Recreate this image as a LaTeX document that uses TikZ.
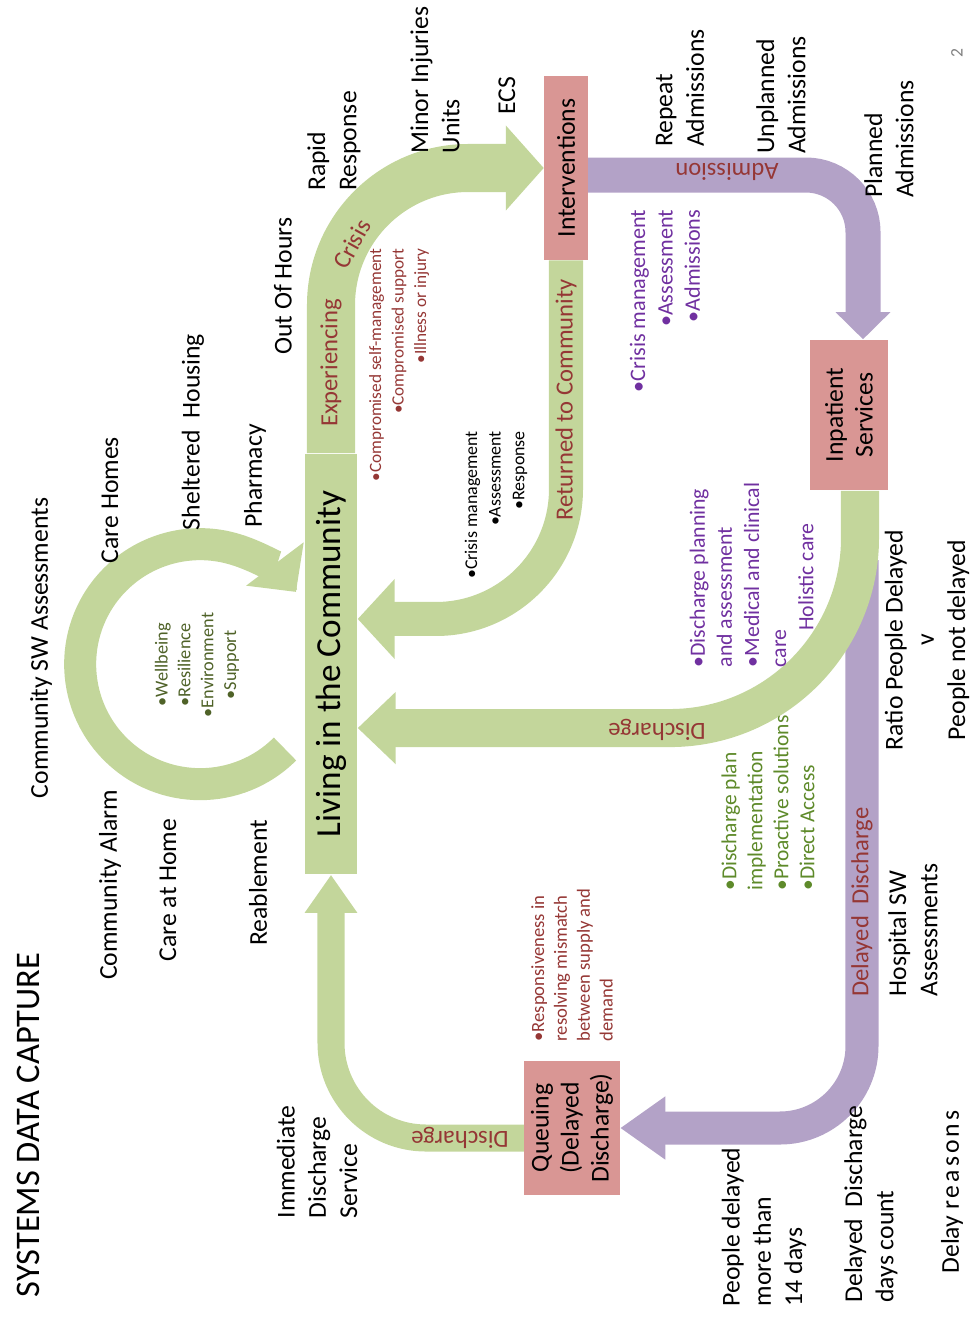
\documentclass[tikz,border=0pt]{standalone}
\usepackage{fontspec}
\setmainfont{Carlito}
\usepackage{tikz}
\usetikzlibrary{arrows.meta}
\usetikzlibrary{positioning}
\definecolor{gfill}{HTML}{C3D69B}
\definecolor{pfill}{HTML}{B3A2C7}
\definecolor{rfill}{HTML}{D99694}
\definecolor{dred}{HTML}{953735}
\definecolor{dpurp}{HTML}{7030A0}
\definecolor{dgreen}{HTML}{4F6228}
\definecolor{lgreen}{HTML}{5E8A2A}
\tikzstyle{lbl}=[rotate=90, inner sep=0pt, align=left, font=\fontsize{7.3}{8.9}\selectfont]
\tikzstyle{box}=[rotate=90, fill=rfill, inner sep=0pt, align=center, font=\fontsize{7.3}{8.5}\selectfont]
\tikzstyle{tag}=[rotate=90, inner sep=0pt, text=dred, font=\fontsize{7}{8}\selectfont]
\tikzstyle{flip}=[rotate=180, inner sep=0pt, text=dred, font=\fontsize{7}{8}\selectfont]
\tikzstyle{small}=[rotate=90, inner sep=0pt, font=\fontsize{5.2}{6.5}\selectfont]
\tikzstyle{gband}=[draw=gfill]
\tikzstyle{pband}=[draw=pfill]
\def\bl{\textbullet}

\begin{document}
\begin{tikzpicture}[x=0.01cm, y=-0.01cm]
  % \draw[help lines, step=1cm] (0,0) grid (972,1317);
  \useasboundingbox (0,0) rectangle (972,1317);
  \node[lbl, font=\fontsize{9.8}{12}\selectfont] (T) at (28,1125) {SYSTEMS DATA CAPTURE};
  \node[rotate=90, text=gray, font=\fontsize{5}{6}\selectfont] (pg) at (957,53) {2};

  \node[box, fill=gfill, minimum width=4.2cm, minimum height=0.52cm, font=\fontsize{10}{12}\selectfont] (L) at (331,664) {Living in the Community};
  \node[box, minimum width=1.83cm, minimum height=0.43cm] (I) at (566,168) {Interventions};
  \node[box, minimum width=1.5cm, minimum height=0.77cm] (P) at (849,415) {Inpatient\\Services};
  \node[box, minimum width=1.33cm, minimum height=0.95cm] (Q) at (572,1128) {Queuing\\(Delayed\\Discharge)};
  \coordinate (W) at (285,749);
  \coordinate (D) at (862,560);

  \draw[gband, line width=0.32cm, -{Triangle[width=0.7cm, length=0.35cm]}] (W) arc[start angle=45, end angle=323, radius=120];
  \draw[gband, line width=0.48cm, rounded corners=1.37cm, -{Triangle[width=0.83cm, length=0.38cm]}] (L.east) |- (I.north);
  \draw[gband, line width=0.34cm, rounded corners=1.3cm, -{Triangle[width=0.78cm, length=0.37cm]}] (I.west) |- ([yshift=0.45cm]L.south);
  \draw[pband, line width=0.35cm, rounded corners=0.57cm, -{Triangle[width=0.53cm, length=0.27cm]}] ([yshift=-0.07cm]I.south) -| ([xshift=0.14cm]P.east);
  \draw[pband, line width=0.33cm, rounded corners=0.82cm, -{Triangle[width=0.6cm, length=0.45cm]}] (D) |- (Q.south);
  \draw[gband, line width=0.38cm, rounded corners=1.9cm, -{Triangle[width=0.7cm, length=0.38cm]}] ([xshift=0.11cm]P.west) |- ([yshift=-0.64cm]L.south);
  \draw[gband, line width=0.27cm, rounded corners=0.95cm, -{Triangle[width=0.5cm, length=0.38cm]}] ([yshift=-0.1cm]Q.north) -| (L.west);

  \node[tag] (ec) at (331,363) {Experiencing};
  \node[rotate=61, inner sep=0pt, text=dred, font=\fontsize{7}{8}\selectfont] (cr) at (352,244) {Crisis};
  \node[tag] (rc) at (566,400) {Returned to Community};
  \node[flip] (adm) at (727,172) {Admission};
  \node[flip] (dis) at (657,730) {Discharge};
  \node[tag] (dd) at (862,902) {Delayed~~Discharge};
  \node[flip] (dis2) at (460,1138) {Discharge};

  \node[small, text=dgreen, align=center] (wb) at (197,665) {\bl Wellbeing\\\bl Resilience\\\bl Environment\\\bl Support};
  \node[small, text=dred, align=right, font=\fontsize{4.9}{6.4}\selectfont] (cmp) at (399,365) {\bl Compromised self-management\\\bl Compromised support\\\bl Illness or injury};
  \node[small, align=right, font=\fontsize{5.1}{6.7}\selectfont] (crs) at (496,505) {\bl Crisis management\\\bl Assessment\\\bl Response};
  \node[small, text=dpurp, align=right, font=\fontsize{6.3}{7.8}\selectfont] (pcr) at (665,301) {\bl Crisis management\\\bl Assessment\\\bl Admissions};
  \node[small, text=dpurp, align=left, font=\fontsize{6.2}{7.7}\selectfont] (dpl) at (738,575) {\bl Discharge planning\\and assessment\\\bl Medical and clinical\\care};
  \node[small, text=dpurp, font=\fontsize{6.2}{7.7}\selectfont] (hol) at (806,577) {Holistic care};
  \node[small, text=lgreen, align=left, font=\fontsize{6.1}{7.4}\selectfont] (dpi) at (768,803) {\bl Discharge plan\\implementation\\\bl Proactive solutions\\\bl Direct Access};
  \node[small, text=dred, align=left, font=\fontsize{5.3}{6.5}\selectfont] (resp) at (572,965) {\bl Responsiveness in\\resolving mismatch\\between supply and\\demand};

  \node[lbl] (csw) at (41,648) {Community SW Assessments};
  \node[lbl] (ch) at (110,500) {Care Homes};
  \node[lbl] (sh) at (193,432) {Sheltered~~Housing};
  \node[lbl] (ph) at (255,476) {Pharmacy};
  \node[lbl] (ooh) at (283,286) {Out Of Hours};
  \node[lbl] (rr) at (334,141) {Rapid\\Response};
  \node[lbl] (miu) at (435,80) {Minor Injuries\\Units};
  \node[lbl] (ecs) at (507,96) {ECS};
  \node[lbl] (ra) at (680,88) {Repeat\\Admissions};
  \node[lbl] (ua) at (781,95) {Unplanned\\Admissions};
  \node[lbl] (pa) at (889,139) {Planned\\Admissions};
  \node[lbl] (ca) at (110,885) {Community Alarm};
  \node[lbl] (cah) at (168,890) {Care at Home};
  \node[lbl] (reab) at (258,883) {Reablement};
  \node[lbl] (ids) at (317,1162) {Immediate\\Discharge\\Service};
  \node[lbl, align=center] (ratio) at (927,640) {Ratio People Delayed\\v\\People not delayed};
  \node[lbl] (hsw) at (913,930) {Hospital SW\\Assessments};
  \node[lbl] (pd) at (764,1227) {People delayed\\more than\\14 days};
  \node[lbl] (ddc) at (871,1204) {Delayed~~Discharge\\days count};
  \node[lbl] (dr) at (952,1192) {Delay {\addfontfeature{LetterSpace=12}reasons}};
\end{tikzpicture}
\end{document}
